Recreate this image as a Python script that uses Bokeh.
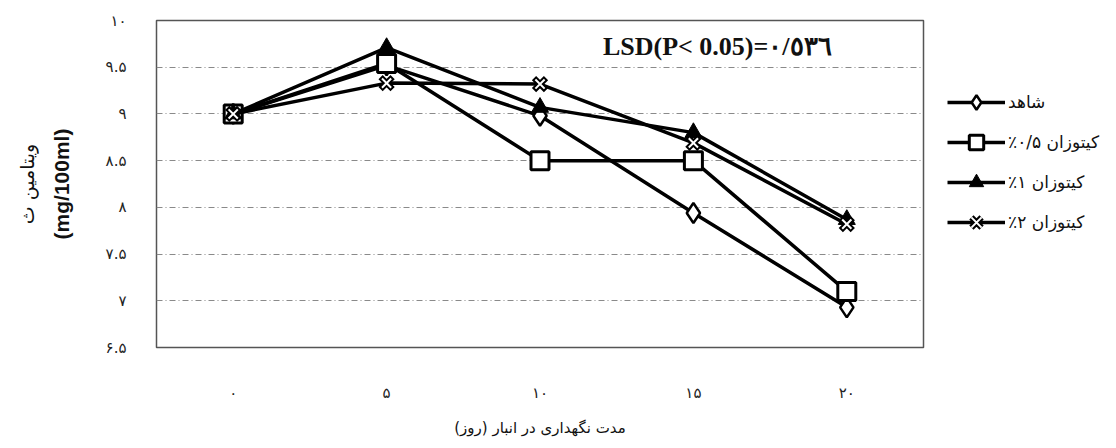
from bokeh.plotting import figure
from bokeh.models import FixedTicker, Legend, LegendItem, Label, Title, Range1d, FactorRange
from bokeh.embed import file_html
from bokeh.resources import INLINE

# ---- data ----
days = ["۰", "۵", "۱۰", "۱۵", "۲۰"]
control = [9.0, 9.52, 8.98, 7.94, 6.93]
chitosan_05 = [9.0, 9.54, 8.50, 8.50, 7.10]
chitosan_1 = [9.0, 9.71, 9.07, 8.80, 7.87]
chitosan_2 = [9.0, 9.33, 9.32, 8.69, 7.82]
series_names = ["شاهد", "\u202bکیتوزان ۰/۵٪\u202c", "\u202bکیتوزان ۱٪\u202c", "\u202bکیتوزان ۲٪\u202c"]
y_ticks = [6.5, 7, 7.5, 8, 8.5, 9, 9.5, 10]
y_tick_labels = ["۶.۵", "۷", "۷.۵", "۸", "۸.۵", "۹", "۹.۵", "۱۰"]
grid_ticks = [7, 7.5, 8, 8.5, 9, 9.5]
x_title = "\u202bمدت نگهداری در انبار (روز)\u202c"
y_title_fa = "ویتامین ث"
y_title_unit = "(mg/100ml)"
lsd_text = "LSD(P< 0.05)=٠/٥٣٦"

PFONT = "DejaVu Sans"

p = figure(frame_width=767, frame_height=327,
           x_range=FactorRange(factors=days), y_range=Range1d(6.5, 10),
           output_backend="svg", toolbar_location=None,
           min_border_left=156, min_border_right=193, min_border_top=20, min_border_bottom=101)

p.background_fill_color = "white"
p.border_fill_color = "white"
p.outline_line_color = "#555555"
p.outline_line_width = 1.5

p.xgrid.visible = False
p.ygrid.ticker = FixedTicker(ticks=grid_ticks)
p.ygrid.grid_line_color = "#8a8a8a"
p.ygrid.grid_line_dash = "6 3 1 3"
p.ygrid.grid_line_width = 1

# y axis
p.yaxis.ticker = FixedTicker(ticks=y_ticks)
p.yaxis.major_label_overrides = dict(zip(y_ticks, y_tick_labels))
p.yaxis.axis_line_color = None
p.yaxis.major_tick_line_color = None
p.yaxis.minor_tick_line_color = None
p.yaxis.major_label_standoff = 24
p.yaxis.major_label_text_font = PFONT
p.yaxis.major_label_text_font_size = "15px"
p.yaxis.major_label_text_color = "#222222"
p.yaxis.axis_label = y_title_unit
p.yaxis.axis_label_text_font = "Liberation Sans"
p.yaxis.axis_label_text_font_style = "bold"
p.yaxis.axis_label_text_font_size = "21px"
p.yaxis.axis_label_text_color = "#111111"
p.yaxis.axis_label_standoff = 30

# x axis
p.xaxis.axis_line_color = None
p.xaxis.major_tick_line_color = None
p.xaxis.minor_tick_line_color = None
p.xaxis.major_label_standoff = 30
p.xaxis.major_label_text_font = PFONT
p.xaxis.major_label_text_font_size = "15px"
p.xaxis.major_label_text_color = "#222222"
p.xaxis.axis_label = x_title
p.xaxis.axis_label_text_font = PFONT
p.xaxis.axis_label_text_font_style = "normal"
p.xaxis.axis_label_text_font_size = "15px"
p.xaxis.axis_label_text_color = "#111111"
p.xaxis.axis_label_standoff = 14

t = Title(text=y_title_fa, align="center", text_font=PFONT, text_font_size="19px",
          text_font_style="normal", text_color="#111111", standoff=18)
p.add_layout(t, "left")

LW = 3.5
items = []

# invisible spacer row to push the legend entries down
spacer = p.line(days, control, line_alpha=0)
items.append(LegendItem(label=" ", renderers=[spacer]))

r1 = p.line(days, control, line_color="black", line_width=LW)
m1 = p.scatter(days, control, marker="diamond", size=20, fill_color="white",
               line_color="black", line_width=2.5)
items.append(LegendItem(label=series_names[0], renderers=[r1, m1]))

r2 = p.line(days, chitosan_05, line_color="black", line_width=LW)
m2 = p.scatter(days, chitosan_05, marker="square", size=18, fill_color="white",
               line_color="black", line_width=3)
items.append(LegendItem(label=series_names[1], renderers=[r2, m2]))

r3 = p.line(days, chitosan_1, line_color="black", line_width=LW)
m3 = p.scatter(days, chitosan_1, marker="triangle", size=17, fill_color="black",
               line_color="black", line_width=1)
items.append(LegendItem(label=series_names[2], renderers=[r3, m3]))

r4 = p.line(days, chitosan_2, line_color="black", line_width=LW)
m4a = p.scatter(days, chitosan_2, marker="x", size=17, line_color="black", line_width=6)
m4b = p.scatter(days, chitosan_2, marker="x", size=13, line_color="white", line_width=2)
items.append(LegendItem(label=series_names[3], renderers=[r4, m4a, m4b]))

legend = Legend(items=items, location="top_left", glyph_width=58, glyph_height=36,
                spacing=4, padding=0, margin=24, border_line_color=None,
                background_fill_alpha=0, label_text_font=PFONT,
                label_text_font_size="17px", label_standoff=3,
                label_text_color="#111111")
p.add_layout(legend, "right")

lsd = Label(x=2.91, y=9.72, text=lsd_text, text_font="Liberation Serif",
            text_font_style="bold", text_font_size="26px", text_baseline="middle",
            text_align="left", text_color="#111111")
p.add_layout(lsd)

open("out.html", "w").write(file_html(p, INLINE))
